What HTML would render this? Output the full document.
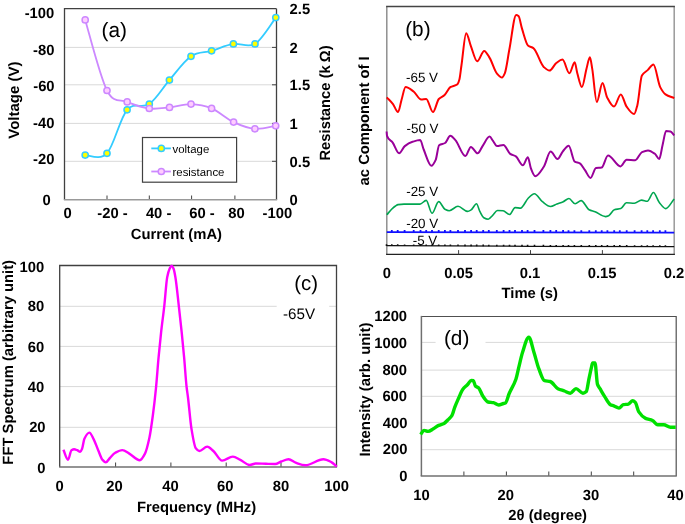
<!DOCTYPE html>
<html><head><meta charset="utf-8"><style>
html,body{margin:0;padding:0;background:#fff;}
svg{display:block;will-change:transform;}
text{font-family:"Liberation Sans",sans-serif;text-rendering:geometricPrecision;}
</style></head><body>
<svg width="685" height="524" viewBox="0 0 685 524">
<rect width="685" height="524" fill="#fff"/>
<line x1="64.5" y1="47.4" x2="276.5" y2="47.4" stroke="#d9d9d9" stroke-width="1"/>
<line x1="272.0" y1="47.4" x2="276.5" y2="47.4" stroke="#404040" stroke-width="1"/>
<line x1="64.5" y1="84.8" x2="276.5" y2="84.8" stroke="#d9d9d9" stroke-width="1"/>
<line x1="272.0" y1="84.8" x2="276.5" y2="84.8" stroke="#404040" stroke-width="1"/>
<line x1="64.5" y1="123.4" x2="276.5" y2="123.4" stroke="#d9d9d9" stroke-width="1"/>
<line x1="272.0" y1="123.4" x2="276.5" y2="123.4" stroke="#404040" stroke-width="1"/>
<line x1="64.5" y1="161.3" x2="276.5" y2="161.3" stroke="#d9d9d9" stroke-width="1"/>
<line x1="272.0" y1="161.3" x2="276.5" y2="161.3" stroke="#404040" stroke-width="1"/>
<line x1="107.0" y1="195.5" x2="107.0" y2="200.0" stroke="#404040" stroke-width="1"/>
<line x1="149.3" y1="195.5" x2="149.3" y2="200.0" stroke="#404040" stroke-width="1"/>
<line x1="191.6" y1="195.5" x2="191.6" y2="200.0" stroke="#404040" stroke-width="1"/>
<line x1="234.9" y1="195.5" x2="234.9" y2="200.0" stroke="#404040" stroke-width="1"/>
<path d="M64.5 200.0 L64.5 8.7 L276.5 8.7" fill="none" stroke="#404040" stroke-width="1.3"/>
<line x1="276.5" y1="8.7" x2="276.5" y2="200.0" stroke="#404040" stroke-width="1.3"/>
<line x1="63.9" y1="199.8" x2="277.1" y2="199.8" stroke="#999" stroke-width="1.6"/>
<rect x="142.5" y="137.5" width="94.1" height="44.7" fill="#fff" stroke="#404040" stroke-width="1.2"/>
<line x1="151.3" y1="148.4" x2="170.9" y2="148.4" stroke="#33ccff" stroke-width="1.8"/>
<circle cx="161.3" cy="148.4" r="3.1" fill="#ffff00" stroke="#33ccff" stroke-width="1.5"/>
<line x1="151.3" y1="171.5" x2="170.9" y2="171.5" stroke="#cc88ff" stroke-width="1.8"/>
<circle cx="161.3" cy="171.5" r="3.1" fill="#ffccff" stroke="#cc88ff" stroke-width="1.5"/>
<text x="172.5" y="152.9" font-size="11.40" text-anchor="start" fill="#000" >voltage</text>
<text x="172.5" y="175.9" font-size="11.40" text-anchor="start" fill="#000" >resistance</text>
<path d="M85.2 155.1 C88.8 154.8 100.0 160.9 107.0 153.3 C114.0 145.8 120.0 118.0 127.1 109.8 C134.2 101.6 142.2 109.0 149.3 104.0 C156.4 99.0 162.5 88.0 169.4 80.1 C176.3 72.1 184.0 61.2 191.0 56.3 C198.0 51.4 204.5 52.9 211.6 50.8 C218.7 48.7 226.2 45.0 233.4 43.9 C240.6 42.8 247.9 48.3 255.0 43.9 C262.1 39.5 272.3 22.0 275.8 17.6" fill="none" stroke="#33ccff" stroke-width="1.8"/>
<circle cx="85.2" cy="155.1" r="3.1" fill="#ffff00" stroke="#33ccff" stroke-width="1.5"/>
<circle cx="107.0" cy="153.3" r="3.1" fill="#ffff00" stroke="#33ccff" stroke-width="1.5"/>
<circle cx="127.1" cy="109.8" r="3.1" fill="#ffff00" stroke="#33ccff" stroke-width="1.5"/>
<circle cx="149.3" cy="104.0" r="3.1" fill="#ffff00" stroke="#33ccff" stroke-width="1.5"/>
<circle cx="169.4" cy="80.1" r="3.1" fill="#ffff00" stroke="#33ccff" stroke-width="1.5"/>
<circle cx="191.0" cy="56.3" r="3.1" fill="#ffff00" stroke="#33ccff" stroke-width="1.5"/>
<circle cx="211.6" cy="50.8" r="3.1" fill="#ffff00" stroke="#33ccff" stroke-width="1.5"/>
<circle cx="233.4" cy="43.9" r="3.1" fill="#ffff00" stroke="#33ccff" stroke-width="1.5"/>
<circle cx="255.0" cy="43.9" r="3.1" fill="#ffff00" stroke="#33ccff" stroke-width="1.5"/>
<circle cx="275.8" cy="17.6" r="3.1" fill="#ffff00" stroke="#33ccff" stroke-width="1.5"/>
<path d="M85.2 19.9 C88.8 31.7 100.0 76.8 107.0 90.5 C114.0 104.2 120.2 98.9 127.2 101.9 C134.2 104.9 142.2 107.6 149.3 108.5 C156.4 109.4 162.6 108.1 169.5 107.4 C176.4 106.7 184.0 103.9 191.0 104.1 C198.0 104.3 204.5 105.4 211.6 108.4 C218.7 111.4 226.4 118.7 233.6 122.1 C240.8 125.5 247.9 128.2 254.9 128.8 C261.9 129.4 272.2 126.3 275.7 125.8" fill="none" stroke="#cc88ff" stroke-width="1.8"/>
<circle cx="85.2" cy="19.9" r="3.1" fill="#ffccff" stroke="#cc88ff" stroke-width="1.5"/>
<circle cx="107.0" cy="90.5" r="3.1" fill="#ffccff" stroke="#cc88ff" stroke-width="1.5"/>
<circle cx="127.2" cy="101.9" r="3.1" fill="#ffccff" stroke="#cc88ff" stroke-width="1.5"/>
<circle cx="149.3" cy="108.5" r="3.1" fill="#ffccff" stroke="#cc88ff" stroke-width="1.5"/>
<circle cx="169.5" cy="107.4" r="3.1" fill="#ffccff" stroke="#cc88ff" stroke-width="1.5"/>
<circle cx="191.0" cy="104.1" r="3.1" fill="#ffccff" stroke="#cc88ff" stroke-width="1.5"/>
<circle cx="211.6" cy="108.4" r="3.1" fill="#ffccff" stroke="#cc88ff" stroke-width="1.5"/>
<circle cx="233.6" cy="122.1" r="3.1" fill="#ffccff" stroke="#cc88ff" stroke-width="1.5"/>
<circle cx="254.9" cy="128.8" r="3.1" fill="#ffccff" stroke="#cc88ff" stroke-width="1.5"/>
<circle cx="275.7" cy="125.8" r="3.1" fill="#ffccff" stroke="#cc88ff" stroke-width="1.5"/>
<text x="101.6" y="36.7" font-size="20.80" text-anchor="start" fill="#000" >(a)</text>
<text x="54.3" y="17.9" font-size="14.80" font-weight="bold" text-anchor="end" fill="#000" >-100</text>
<text x="54.4" y="54.8" font-size="14.80" font-weight="bold" text-anchor="end" fill="#000" >-80</text>
<text x="54.6" y="91.0" font-size="14.80" font-weight="bold" text-anchor="end" fill="#000" >-60</text>
<text x="54.4" y="128.1" font-size="14.80" font-weight="bold" text-anchor="end" fill="#000" >-40</text>
<text x="54.4" y="164.4" font-size="14.80" font-weight="bold" text-anchor="end" fill="#000" >-20</text>
<text x="50.8" y="204.8" font-size="14.80" font-weight="bold" text-anchor="end" fill="#000" >0</text>
<text x="289.6" y="14.1" font-size="14.80" font-weight="bold" text-anchor="start" fill="#000" >2.5</text>
<text x="289.6" y="52.7" font-size="14.80" font-weight="bold" text-anchor="start" fill="#000" >2</text>
<text x="289.6" y="89.9" font-size="14.80" font-weight="bold" text-anchor="start" fill="#000" >1.5</text>
<text x="289.6" y="129.1" font-size="14.80" font-weight="bold" text-anchor="start" fill="#000" >1</text>
<text x="289.6" y="166.9" font-size="14.80" font-weight="bold" text-anchor="start" fill="#000" >0.5</text>
<text x="289.6" y="205.1" font-size="14.80" font-weight="bold" text-anchor="start" fill="#000" >0</text>
<text x="63.5" y="217.6" font-size="14.80" font-weight="bold" text-anchor="start" fill="#000" >0</text>
<text x="97.3" y="217.6" font-size="14.80" font-weight="bold" text-anchor="start" fill="#000" >-20 -</text>
<text x="145.9" y="217.6" font-size="14.80" font-weight="bold" text-anchor="start" fill="#000" >40 -</text>
<text x="189.3" y="217.6" font-size="14.80" font-weight="bold" text-anchor="start" fill="#000" >60 -</text>
<text x="228.2" y="217.6" font-size="14.80" font-weight="bold" text-anchor="start" fill="#000" >80</text>
<text x="262.5" y="217.6" font-size="14.80" font-weight="bold" text-anchor="start" fill="#000" >-100</text>
<text x="176.4" y="239.0" font-size="14.80" font-weight="bold" text-anchor="middle" fill="#000" >Current (mA)</text>
<text x="0" y="0" font-size="15.00" font-weight="bold" text-anchor="middle" transform="translate(19.1 100.1) rotate(-90)">Voltage (V)</text>
<text x="0" y="0" font-size="14.80" font-weight="bold" text-anchor="middle" transform="translate(329.6 103.0) rotate(-90)">Resistance (k&#8201;&#937;)</text>
<line x1="386.8" y1="6.5" x2="386.8" y2="254.4" stroke="#888" stroke-width="1.4"/>
<line x1="674.2" y1="6.5" x2="674.2" y2="254.4" stroke="#999" stroke-width="1.5"/>
<line x1="386.1" y1="6.5" x2="674.9" y2="6.5" stroke="#444" stroke-width="1.3"/>
<line x1="386.1" y1="254.4" x2="674.9" y2="254.4" stroke="#222" stroke-width="1.4"/>
<line x1="458.6" y1="250.1" x2="458.6" y2="254.4" stroke="#404040" stroke-width="1"/>
<line x1="530.5" y1="250.1" x2="530.5" y2="254.4" stroke="#404040" stroke-width="1"/>
<line x1="602.4" y1="250.1" x2="602.4" y2="254.4" stroke="#404040" stroke-width="1"/>
<path d="M386.80 97.30 C388.87 99.57 390.93 101.39 393.00 104.10 C394.67 106.28 396.33 112.10 398.00 112.10 C399.17 112.10 400.33 103.86 401.50 100.00 C402.87 95.47 404.23 87.00 405.60 87.00 C408.27 87.00 410.93 89.54 413.60 91.50 C416.13 93.36 418.67 99.50 421.20 99.50 C422.87 99.50 424.53 98.90 426.20 98.90 C428.47 98.90 430.73 112.10 433.00 112.10 C434.93 112.10 436.87 101.04 438.80 99.00 C440.73 96.96 442.67 96.77 444.60 95.00 C446.50 93.26 448.40 88.44 450.30 87.20 C452.70 85.63 455.10 86.19 457.50 84.20 C458.13 83.68 458.77 81.79 459.40 79.50 C460.10 76.97 460.80 69.79 461.50 65.00 C463.07 54.28 464.63 33.20 466.20 33.20 C467.73 33.20 469.27 41.84 470.80 45.80 C472.93 51.30 475.07 61.30 477.20 61.30 C479.53 61.30 481.87 50.90 484.20 50.90 C486.10 50.90 488.00 55.32 489.90 58.40 C492.20 62.13 494.50 70.65 496.80 73.30 C498.53 75.30 500.27 77.50 502.00 77.50 C502.93 77.50 503.87 75.38 504.80 73.30 C506.33 69.88 507.87 57.18 509.40 49.30 C511.67 37.64 513.93 14.90 516.20 14.90 C516.97 14.90 517.73 15.39 518.50 16.00 C519.67 16.94 520.83 24.90 522.00 28.60 C524.07 35.15 526.13 44.26 528.20 45.80 C529.93 47.10 531.67 46.94 533.40 48.10 C536.83 50.39 540.27 63.79 543.70 66.90 C545.63 68.65 547.57 70.60 549.50 70.60 C551.77 70.60 554.03 64.66 556.30 63.00 C558.37 61.49 560.43 59.60 562.50 59.60 C564.80 59.60 567.10 73.30 569.40 73.30 C571.17 73.30 572.93 62.30 574.70 62.30 C575.57 62.30 576.43 70.21 577.30 73.30 C578.83 78.77 580.37 87.10 581.90 87.10 C583.43 87.10 584.97 74.27 586.50 68.70 C587.63 64.58 588.77 57.30 589.90 57.30 C590.67 57.30 591.43 64.28 592.20 68.70 C593.73 77.54 595.27 102.00 596.80 102.00 C598.70 102.00 600.60 83.00 602.50 83.00 C604.03 83.00 605.57 94.45 607.10 97.40 C609.40 101.82 611.70 106.60 614.00 106.60 C616.27 106.60 618.53 94.40 620.80 94.40 C622.73 94.40 624.67 103.94 626.60 106.60 C629.10 110.04 631.60 114.10 634.10 114.10 C635.17 114.10 636.23 109.39 637.30 105.40 C638.83 99.67 640.37 78.23 641.90 75.60 C643.90 72.17 645.90 71.81 647.90 69.90 C649.73 68.15 651.57 64.60 653.40 64.60 C655.67 64.60 657.93 82.77 660.20 87.10 C661.97 90.48 663.73 93.20 665.50 94.40 C668.40 96.37 671.30 96.87 674.20 98.10" fill="none" stroke="#ff0000" stroke-width="2.0" stroke-linejoin="round"/>
<path d="M386.60 131.50 C386.73 132.93 386.87 135.43 387.00 135.80 C388.90 141.11 390.80 139.96 392.70 142.60 C394.83 145.56 396.97 153.30 399.10 153.30 C401.00 153.30 402.90 147.60 404.80 146.10 C407.37 144.07 409.93 142.61 412.50 141.80 C415.07 140.99 417.63 140.10 420.20 140.10 C421.37 140.10 422.53 146.70 423.70 149.50 C426.27 155.67 428.83 165.80 431.40 165.80 C432.83 165.80 434.27 162.88 435.70 159.80 C436.83 157.36 437.97 146.03 439.10 145.20 C441.10 143.73 443.10 144.18 445.10 143.00 C446.83 141.98 448.57 135.80 450.30 135.80 C452.00 135.80 453.70 138.29 455.40 140.10 C458.73 143.66 462.07 156.00 465.40 156.00 C467.23 156.00 469.07 146.90 470.90 146.90 C473.13 146.90 475.37 153.30 477.60 153.30 C479.30 153.30 481.00 148.18 482.70 145.80 C485.00 142.58 487.30 136.60 489.60 136.60 C490.73 136.60 491.87 139.45 493.00 140.90 C494.33 142.61 495.67 146.10 497.00 146.10 C499.13 146.10 501.27 144.90 503.40 144.90 C505.67 144.90 507.93 152.29 510.20 153.80 C512.10 155.07 514.00 155.14 515.90 156.40 C518.20 157.93 520.50 165.30 522.80 165.30 C524.50 165.30 526.20 157.30 527.90 157.30 C528.90 157.30 529.90 165.92 530.90 168.40 C532.33 171.96 533.77 176.20 535.20 176.20 C538.07 176.20 540.93 170.99 543.80 166.70 C546.07 163.31 548.33 151.60 550.60 151.60 C552.90 151.60 555.20 159.00 557.50 159.00 C559.23 159.00 560.97 153.60 562.70 151.60 C564.70 149.29 566.70 145.80 568.70 145.80 C570.70 145.80 572.70 160.44 574.70 161.60 C576.40 162.59 578.10 162.40 579.80 163.30 C581.53 164.22 583.27 167.84 585.00 170.20 C586.83 172.70 588.67 177.90 590.50 177.90 C592.33 177.90 594.17 168.41 596.00 168.10 C597.87 167.78 599.73 167.91 601.60 167.60 C603.73 167.24 605.87 155.50 608.00 155.50 C612.17 155.50 616.33 166.40 620.50 166.40 C622.53 166.40 624.57 159.80 626.60 159.80 C629.47 159.80 632.33 160.20 635.20 160.20 C637.47 160.20 639.73 153.12 642.00 152.10 C644.00 151.20 646.00 150.40 648.00 150.40 C650.30 150.40 652.60 152.14 654.90 153.80 C656.33 154.84 657.77 159.00 659.20 159.00 C660.37 159.00 661.53 149.13 662.70 144.40 C663.83 139.81 664.97 131.00 666.10 131.00 C667.53 131.00 668.97 131.20 670.40 131.50 C671.70 131.77 673.00 134.10 674.30 135.40" fill="none" stroke="#990099" stroke-width="2.0" stroke-linejoin="round"/>
<path d="M386.80 214.80 C388.40 212.97 390.00 210.85 391.60 209.30 C392.90 208.04 394.20 206.84 395.50 206.00 C396.37 205.44 397.23 204.74 398.10 204.60 C400.07 204.28 402.03 204.10 404.00 204.10 C409.33 204.10 414.67 204.10 420.00 204.10 C422.07 204.10 424.13 200.40 426.20 200.40 C428.13 200.40 430.07 213.30 432.00 213.30 C434.23 213.30 436.47 201.60 438.70 201.60 C440.77 201.60 442.83 208.11 444.90 209.20 C446.33 209.95 447.77 210.70 449.20 210.70 C452.13 210.70 455.07 206.30 458.00 206.30 C461.17 206.30 464.33 211.40 467.50 211.40 C468.70 211.40 469.90 210.61 471.10 209.90 C472.90 208.84 474.70 203.80 476.50 203.80 C477.60 203.80 478.70 209.22 479.80 211.30 C481.13 213.82 482.47 216.90 483.80 217.70 C485.27 218.58 486.73 219.30 488.20 219.30 C489.70 219.30 491.20 216.71 492.70 215.30 C494.30 213.80 495.90 210.50 497.50 210.50 C499.37 210.50 501.23 210.62 503.10 210.80 C505.23 211.01 507.37 214.50 509.50 214.50 C511.37 214.50 513.23 207.60 515.10 207.60 C517.00 207.60 518.90 208.10 520.80 208.10 C521.60 208.10 522.40 206.64 523.20 205.70 C524.80 203.82 526.40 200.13 528.00 198.50 C530.13 196.33 532.27 193.70 534.40 193.70 C537.07 193.70 539.73 199.71 542.40 201.70 C545.10 203.71 547.80 206.50 550.50 206.50 C552.63 206.50 554.77 204.90 556.90 204.10 C559.03 203.30 561.17 202.67 563.30 201.70 C565.17 200.85 567.03 198.50 568.90 198.50 C571.00 198.50 573.10 203.80 575.20 203.80 C577.17 203.80 579.13 200.60 581.10 200.60 C583.77 200.60 586.43 208.31 589.10 209.70 C591.10 210.74 593.10 211.01 595.10 211.80 C598.57 213.16 602.03 216.60 605.50 216.60 C606.57 216.60 607.63 216.15 608.70 215.70 C610.57 214.91 612.43 210.26 614.30 209.70 C616.47 209.06 618.63 209.24 620.80 208.60 C622.67 208.05 624.53 202.80 626.40 202.80 C629.07 202.80 631.73 203.30 634.40 203.30 C636.80 203.30 639.20 200.10 641.60 200.10 C643.50 200.10 645.40 201.20 647.30 201.20 C649.33 201.20 651.37 192.50 653.40 192.50 C655.37 192.50 657.33 200.09 659.30 202.50 C661.43 205.11 663.57 208.60 665.70 208.60 C668.53 208.60 671.37 202.20 674.20 199.00" fill="none" stroke="#00a650" stroke-width="1.6" stroke-linejoin="round"/>
<path d="M386.8 232.2 L530 232.4 L674.2 232.6" fill="none" stroke="#1010ff" stroke-width="1.8"/>
<path d="M390.9 229.9 h1.8 v2 h-1.8 Z M396.8 229.9 h1.8 v2 h-1.8 Z M403.7 229.9 h1.8 v2 h-1.8 Z M412.8 229.9 h1.8 v2 h-1.8 Z M419.6 229.9 h1.8 v2 h-1.8 Z M425.3 230.0 h1.8 v2 h-1.8 Z M431.1 230.0 h1.8 v2 h-1.8 Z M437.8 230.0 h1.8 v2 h-1.8 Z M444.0 230.0 h1.8 v2 h-1.8 Z M449.5 230.0 h1.8 v2 h-1.8 Z M457.1 230.0 h1.8 v2 h-1.8 Z M464.1 230.0 h1.8 v2 h-1.8 Z M470.2 230.0 h1.8 v2 h-1.8 Z M475.8 230.0 h1.8 v2 h-1.8 Z M482.3 230.0 h1.8 v2 h-1.8 Z M487.9 230.0 h1.8 v2 h-1.8 Z M495.9 230.1 h1.8 v2 h-1.8 Z M502.7 230.1 h1.8 v2 h-1.8 Z M508.6 230.1 h1.8 v2 h-1.8 Z M514.1 230.1 h1.8 v2 h-1.8 Z M521.1 230.1 h1.8 v2 h-1.8 Z M526.7 230.1 h1.8 v2 h-1.8 Z M533.6 230.1 h1.8 v2 h-1.8 Z M542.5 230.1 h1.8 v2 h-1.8 Z M549.5 230.1 h1.8 v2 h-1.8 Z M555.3 230.1 h1.8 v2 h-1.8 Z M562.2 230.1 h1.8 v2 h-1.8 Z M567.6 230.2 h1.8 v2 h-1.8 Z M573.5 230.2 h1.8 v2 h-1.8 Z M580.4 230.2 h1.8 v2 h-1.8 Z M588.4 230.2 h1.8 v2 h-1.8 Z M594.9 230.2 h1.8 v2 h-1.8 Z M600.8 230.2 h1.8 v2 h-1.8 Z M606.5 230.2 h1.8 v2 h-1.8 Z M613.3 230.2 h1.8 v2 h-1.8 Z M618.9 230.2 h1.8 v2 h-1.8 Z M625.8 230.2 h1.8 v2 h-1.8 Z M633.7 230.2 h1.8 v2 h-1.8 Z M640.7 230.3 h1.8 v2 h-1.8 Z M646.4 230.3 h1.8 v2 h-1.8 Z M652.2 230.3 h1.8 v2 h-1.8 Z M658.9 230.3 h1.8 v2 h-1.8 Z M664.5 230.3 h1.8 v2 h-1.8 Z" fill="#1010ff"/>
<path d="M386.8 245.6 L530 246.3 L674.2 246.6" fill="none" stroke="#111" stroke-width="1.2"/>
<path d="M385.7 244.3 h1.6 v1.6 h-1.6 Z M391.0 244.3 h1.6 v1.6 h-1.6 Z M396.9 244.3 h1.6 v1.6 h-1.6 Z M403.8 244.4 h1.6 v1.6 h-1.6 Z M412.9 244.4 h1.6 v1.6 h-1.6 Z M419.7 244.4 h1.6 v1.6 h-1.6 Z M425.4 244.4 h1.6 v1.6 h-1.6 Z M431.2 244.5 h1.6 v1.6 h-1.6 Z M437.9 244.5 h1.6 v1.6 h-1.6 Z M444.1 244.5 h1.6 v1.6 h-1.6 Z M449.6 244.5 h1.6 v1.6 h-1.6 Z M457.2 244.5 h1.6 v1.6 h-1.6 Z M464.2 244.6 h1.6 v1.6 h-1.6 Z M470.3 244.6 h1.6 v1.6 h-1.6 Z M475.9 244.6 h1.6 v1.6 h-1.6 Z M482.4 244.6 h1.6 v1.6 h-1.6 Z M488.0 244.7 h1.6 v1.6 h-1.6 Z M496.0 244.7 h1.6 v1.6 h-1.6 Z M502.8 244.7 h1.6 v1.6 h-1.6 Z M508.7 244.7 h1.6 v1.6 h-1.6 Z M514.2 244.7 h1.6 v1.6 h-1.6 Z M521.2 244.8 h1.6 v1.6 h-1.6 Z M526.8 244.8 h1.6 v1.6 h-1.6 Z M533.7 244.8 h1.6 v1.6 h-1.6 Z M542.6 244.8 h1.6 v1.6 h-1.6 Z M549.6 244.9 h1.6 v1.6 h-1.6 Z M555.4 244.9 h1.6 v1.6 h-1.6 Z M562.3 244.9 h1.6 v1.6 h-1.6 Z M567.7 244.9 h1.6 v1.6 h-1.6 Z M573.6 245.0 h1.6 v1.6 h-1.6 Z M580.5 245.0 h1.6 v1.6 h-1.6 Z M588.5 245.0 h1.6 v1.6 h-1.6 Z M595.0 245.0 h1.6 v1.6 h-1.6 Z M600.9 245.0 h1.6 v1.6 h-1.6 Z M606.6 245.1 h1.6 v1.6 h-1.6 Z M613.4 245.1 h1.6 v1.6 h-1.6 Z M619.0 245.1 h1.6 v1.6 h-1.6 Z M625.9 245.1 h1.6 v1.6 h-1.6 Z M633.8 245.2 h1.6 v1.6 h-1.6 Z M640.8 245.2 h1.6 v1.6 h-1.6 Z M646.5 245.2 h1.6 v1.6 h-1.6 Z M652.3 245.2 h1.6 v1.6 h-1.6 Z M659.0 245.2 h1.6 v1.6 h-1.6 Z M664.6 245.3 h1.6 v1.6 h-1.6 Z" fill="#111"/>
<text x="406.0" y="82.4" font-size="13.40" text-anchor="start" fill="#000" >-65 V</text>
<text x="406.5" y="133.2" font-size="13.40" text-anchor="start" fill="#000" >-50 V</text>
<text x="406.2" y="195.6" font-size="13.40" text-anchor="start" fill="#000" >-25 V</text>
<text x="406.2" y="227.5" font-size="13.40" text-anchor="start" fill="#000" >-20 V</text>
<text x="412.7" y="244.7" font-size="13.40" text-anchor="start" fill="#000" >-5 V</text>
<text x="405.2" y="35.6" font-size="20.80" text-anchor="start" fill="#000" >(b)</text>
<text x="386.8" y="278.3" font-size="14.80" font-weight="bold" text-anchor="middle" fill="#000" >0</text>
<text x="458.6" y="278.3" font-size="14.80" font-weight="bold" text-anchor="middle" fill="#000" >0.05</text>
<text x="530.0" y="278.3" font-size="14.80" font-weight="bold" text-anchor="middle" fill="#000" >0.1</text>
<text x="602.2" y="278.3" font-size="14.80" font-weight="bold" text-anchor="middle" fill="#000" >0.15</text>
<text x="674.0" y="278.3" font-size="14.80" font-weight="bold" text-anchor="middle" fill="#000" >0.2</text>
<text x="529.8" y="298.2" font-size="14.80" font-weight="bold" text-anchor="middle" fill="#000" >Time (s)</text>
<text x="0" y="0" font-size="14.80" font-weight="bold" text-anchor="middle" transform="translate(368.8 120.9) rotate(-90)">ac Component of I</text>
<line x1="59.7" y1="427.3" x2="336.5" y2="427.3" stroke="#d9d9d9" stroke-width="1"/>
<line x1="59.7" y1="386.6" x2="336.5" y2="386.6" stroke="#d9d9d9" stroke-width="1"/>
<line x1="59.7" y1="346.4" x2="336.5" y2="346.4" stroke="#d9d9d9" stroke-width="1"/>
<line x1="59.7" y1="306.3" x2="276.7" y2="306.3" stroke="#d9d9d9" stroke-width="1"/>
<line x1="329.2" y1="306.3" x2="336.5" y2="306.3" stroke="#d9d9d9" stroke-width="1"/>
<line x1="115.6" y1="462.5" x2="115.6" y2="467.0" stroke="#404040" stroke-width="1"/>
<line x1="170.9" y1="462.5" x2="170.9" y2="467.0" stroke="#404040" stroke-width="1"/>
<line x1="226.2" y1="462.5" x2="226.2" y2="467.0" stroke="#404040" stroke-width="1"/>
<line x1="281.0" y1="462.5" x2="281.0" y2="467.0" stroke="#404040" stroke-width="1"/>
<path d="M59.7 467.0 L59.7 265.5 L336.5 265.5 L336.5 467.0" fill="none" stroke="#404040" stroke-width="1.3"/>
<line x1="59.1" y1="467.0" x2="337.1" y2="467.0" stroke="#707070" stroke-width="1.4"/>
<path d="M63.40 449.80 C64.93 453.10 66.47 459.70 68.00 459.70 C69.17 459.70 70.33 450.89 71.50 450.20 C72.37 449.69 73.23 449.30 74.10 449.30 C75.13 449.30 76.17 449.80 77.20 450.20 C78.20 450.58 79.20 451.90 80.20 451.90 C80.83 451.90 81.47 450.22 82.10 448.70 C82.87 446.86 83.63 440.27 84.40 438.70 C86.07 435.29 87.73 432.60 89.40 432.60 C90.80 432.60 92.20 436.47 93.60 439.10 C95.13 441.98 96.67 446.62 98.20 450.20 C99.60 453.47 101.00 458.08 102.40 459.70 C103.53 461.01 104.67 462.40 105.80 462.40 C107.20 462.40 108.60 459.24 110.00 457.80 C111.77 455.99 113.53 453.67 115.30 452.70 C117.63 451.42 119.97 450.10 122.30 450.10 C124.63 450.10 126.97 452.31 129.30 453.60 C132.80 455.53 136.30 460.20 139.80 460.20 C141.53 460.20 143.27 456.89 145.00 453.60 C146.47 450.81 147.93 444.67 149.40 437.80 C150.57 432.34 151.73 423.74 152.90 415.00 C153.90 407.51 154.90 398.83 155.90 388.80 C156.80 379.77 157.70 366.85 158.60 357.20 C159.43 348.26 160.27 339.97 161.10 332.40 C162.17 322.72 163.23 315.44 164.30 305.80 C165.27 297.07 166.23 282.12 167.20 277.20 C168.00 273.13 168.80 270.43 169.60 268.80 C170.33 267.30 171.07 265.60 171.80 265.60 C172.40 265.60 173.00 267.26 173.60 268.80 C174.20 270.34 174.80 273.70 175.40 277.20 C176.53 283.81 177.67 295.84 178.80 305.80 C179.77 314.29 180.73 322.99 181.70 332.40 C182.50 340.19 183.30 348.35 184.10 357.20 C184.93 366.42 185.77 379.49 186.60 387.00 C187.07 391.21 187.53 393.73 188.00 397.50 C189.17 406.92 190.33 421.93 191.50 429.00 C192.93 437.68 194.37 446.46 195.80 448.30 C196.97 449.80 198.13 451.00 199.30 451.00 C201.93 451.00 204.57 446.60 207.20 446.60 C209.27 446.60 211.33 449.24 213.40 451.00 C216.30 453.47 219.20 460.60 222.10 460.60 C225.67 460.60 229.23 456.60 232.80 456.60 C235.33 456.60 237.87 458.67 240.40 459.90 C243.47 461.39 246.53 465.00 249.60 465.00 C251.67 465.00 253.73 463.50 255.80 463.50 C259.20 463.50 262.60 463.72 266.00 463.80 C269.07 463.88 272.13 464.00 275.20 464.00 C277.23 464.00 279.27 462.21 281.30 461.50 C283.73 460.65 286.17 459.30 288.60 459.30 C290.93 459.30 293.27 461.89 295.60 462.70 C298.90 463.84 302.20 465.30 305.50 465.30 C311.47 465.30 317.43 459.30 323.40 459.30 C326.03 459.30 328.67 460.76 331.30 462.10 C333.10 463.02 334.90 465.10 336.70 466.60" fill="none" stroke="#ff00ff" stroke-width="2.4" stroke-linejoin="round"/>
<text x="44.3" y="272.1" font-size="14.80" font-weight="bold" text-anchor="end" fill="#000" >100</text>
<text x="44.3" y="311.3" font-size="14.80" font-weight="bold" text-anchor="end" fill="#000" >80</text>
<text x="44.3" y="352.2" font-size="14.80" font-weight="bold" text-anchor="end" fill="#000" >60</text>
<text x="44.3" y="392.4" font-size="14.80" font-weight="bold" text-anchor="end" fill="#000" >40</text>
<text x="45.6" y="432.1" font-size="14.80" font-weight="bold" text-anchor="end" fill="#000" >20</text>
<text x="45.6" y="472.6" font-size="14.80" font-weight="bold" text-anchor="end" fill="#000" >0</text>
<text x="59.7" y="490.8" font-size="14.80" font-weight="bold" text-anchor="middle" fill="#000" >0</text>
<text x="114.6" y="490.8" font-size="14.80" font-weight="bold" text-anchor="middle" fill="#000" >20</text>
<text x="170.4" y="490.8" font-size="14.80" font-weight="bold" text-anchor="middle" fill="#000" >40</text>
<text x="225.3" y="490.8" font-size="14.80" font-weight="bold" text-anchor="middle" fill="#000" >60</text>
<text x="280.9" y="490.8" font-size="14.80" font-weight="bold" text-anchor="middle" fill="#000" >80</text>
<text x="336.6" y="490.8" font-size="14.80" font-weight="bold" text-anchor="middle" fill="#000" >100</text>
<text x="196.6" y="511.8" font-size="14.80" font-weight="bold" text-anchor="middle" fill="#000" >Frequency (MHz)</text>
<text x="0" y="0" font-size="14.80" font-weight="bold" text-anchor="middle" transform="translate(12.6 362.3) rotate(-90)">FFT Spectrum (arbitrary unit)</text>
<text x="294.2" y="290.0" font-size="20.40" text-anchor="start" fill="#000" >(c)</text>
<text x="283.0" y="319.2" font-size="15.20" text-anchor="start" fill="#000" >-65V</text>
<line x1="421.4" y1="449.7" x2="676.2" y2="449.7" stroke="#d9d9d9" stroke-width="1"/>
<line x1="421.4" y1="422.4" x2="676.2" y2="422.4" stroke="#d9d9d9" stroke-width="1"/>
<line x1="421.4" y1="396.3" x2="676.2" y2="396.3" stroke="#d9d9d9" stroke-width="1"/>
<line x1="421.4" y1="370.1" x2="676.2" y2="370.1" stroke="#d9d9d9" stroke-width="1"/>
<line x1="421.4" y1="342.4" x2="435.6" y2="342.4" stroke="#d9d9d9" stroke-width="1"/>
<line x1="485.5" y1="342.4" x2="676.2" y2="342.4" stroke="#d9d9d9" stroke-width="1"/>
<line x1="463.9" y1="471.5" x2="463.9" y2="476.0" stroke="#404040" stroke-width="1"/>
<line x1="506.4" y1="471.5" x2="506.4" y2="476.0" stroke="#404040" stroke-width="1"/>
<line x1="548.8" y1="471.5" x2="548.8" y2="476.0" stroke="#404040" stroke-width="1"/>
<line x1="591.3" y1="471.5" x2="591.3" y2="476.0" stroke="#404040" stroke-width="1"/>
<line x1="633.7" y1="471.5" x2="633.7" y2="476.0" stroke="#404040" stroke-width="1"/>
<path d="M421.4 316.5 L676.2 316.5 L676.2 476.0" fill="none" stroke="#505050" stroke-width="1.2"/>
<line x1="421.4" y1="315.9" x2="421.4" y2="476.0" stroke="#707070" stroke-width="1.5"/>
<line x1="420.7" y1="476.0" x2="676.8" y2="476.0" stroke="#707070" stroke-width="1.5"/>
<path d="M420.60 434.50 C421.73 433.13 422.87 430.40 424.00 430.40 C425.33 430.40 426.67 431.40 428.00 431.40 C429.80 431.40 431.60 429.79 433.40 428.80 C435.17 427.83 436.93 426.24 438.70 425.40 C440.47 424.56 442.23 424.37 444.00 423.40 C445.33 422.67 446.67 421.03 448.00 419.70 C449.33 418.37 450.67 417.57 452.00 415.40 C452.90 413.94 453.80 409.78 454.70 407.40 C456.03 403.88 457.37 400.99 458.70 398.00 C460.03 395.01 461.37 391.24 462.70 389.40 C464.27 387.24 465.83 386.32 467.40 384.70 C468.73 383.32 470.07 380.40 471.40 380.40 C472.07 380.40 472.73 380.51 473.40 380.70 C474.07 380.89 474.73 385.31 475.40 386.00 C476.50 387.14 477.60 387.00 478.70 388.00 C480.07 389.24 481.43 394.02 482.80 396.00 C484.57 398.56 486.33 401.58 488.10 402.00 C489.87 402.42 491.63 402.34 493.40 402.70 C495.17 403.06 496.93 405.00 498.70 405.00 C500.30 405.00 501.90 403.95 503.50 403.50 C504.13 403.32 504.77 403.28 505.40 403.00 C506.67 402.45 507.93 396.44 509.20 393.50 C511.43 388.32 513.67 385.76 515.90 379.20 C516.83 376.46 517.77 371.49 518.70 367.70 C519.97 362.56 521.23 356.41 522.50 352.50 C524.60 346.02 526.70 337.20 528.80 337.20 C530.53 337.20 532.27 347.05 534.00 352.50 C535.60 357.53 537.20 364.52 538.80 368.70 C540.70 373.66 542.60 380.20 544.50 380.70 C546.40 381.20 548.30 381.05 550.20 381.50 C552.77 382.10 555.33 387.41 557.90 388.70 C560.10 389.80 562.30 390.20 564.50 391.00 C566.43 391.70 568.37 393.20 570.30 393.20 C572.20 393.20 574.10 388.60 576.00 388.60 C578.30 388.60 580.60 393.20 582.90 393.20 C584.03 393.20 585.17 392.56 586.30 391.50 C587.17 390.69 588.03 383.25 588.90 379.20 C589.77 375.15 590.63 370.78 591.50 367.20 C591.87 365.69 592.23 363.00 592.60 363.00 C593.40 363.00 594.20 363.00 595.00 363.00 C595.83 363.00 596.67 382.01 597.50 384.40 C598.33 386.79 599.17 387.28 600.00 388.70 C601.47 391.20 602.93 393.82 604.40 396.10 C606.40 399.21 608.40 403.63 610.40 404.70 C611.53 405.31 612.67 405.47 613.80 405.90 C615.53 406.56 617.27 408.10 619.00 408.10 C620.43 408.10 621.87 405.00 623.30 404.70 C625.00 404.34 626.70 404.46 628.40 404.10 C629.83 403.80 631.27 400.70 632.70 400.70 C633.57 400.70 634.43 401.51 635.30 402.40 C636.47 403.59 637.63 410.16 638.80 411.90 C641.07 415.28 643.33 417.35 645.60 418.40 C647.90 419.46 650.20 419.45 652.50 420.50 C654.23 421.29 655.97 424.80 657.70 424.80 C659.70 424.80 661.70 424.80 663.70 424.80 C665.97 424.80 668.23 427.30 670.50 427.30 C672.23 427.30 673.97 427.30 675.70 427.30" fill="none" stroke="#00e000" stroke-width="3.4" stroke-linejoin="round"/>
<text x="407.1" y="321.3" font-size="14.80" font-weight="bold" text-anchor="end" fill="#000" >1200</text>
<text x="407.1" y="347.9" font-size="14.80" font-weight="bold" text-anchor="end" fill="#000" >1000</text>
<text x="407.1" y="374.5" font-size="14.80" font-weight="bold" text-anchor="end" fill="#000" >800</text>
<text x="407.1" y="401.1" font-size="14.80" font-weight="bold" text-anchor="end" fill="#000" >600</text>
<text x="407.4" y="427.6" font-size="14.80" font-weight="bold" text-anchor="end" fill="#000" >400</text>
<text x="407.4" y="454.2" font-size="14.80" font-weight="bold" text-anchor="end" fill="#000" >200</text>
<text x="407.4" y="480.8" font-size="14.80" font-weight="bold" text-anchor="end" fill="#000" >0</text>
<text x="421.5" y="499.5" font-size="14.80" font-weight="bold" text-anchor="middle" fill="#000" >10</text>
<text x="505.7" y="499.5" font-size="14.80" font-weight="bold" text-anchor="middle" fill="#000" >20</text>
<text x="591.0" y="499.5" font-size="14.80" font-weight="bold" text-anchor="middle" fill="#000" >30</text>
<text x="675.6" y="499.5" font-size="14.80" font-weight="bold" text-anchor="middle" fill="#000" >40</text>
<text x="547.7" y="520.2" font-size="14.80" font-weight="bold" text-anchor="middle" fill="#000" >2&#952; (degree)</text>
<text x="0" y="0" font-size="14.90" font-weight="bold" text-anchor="middle" transform="translate(369.6 389.6) rotate(-90)">Intensity (arb. unit)</text>
<text x="443.9" y="345.4" font-size="20.80" text-anchor="start" fill="#000" >(d)</text>
</svg>
</body></html>
